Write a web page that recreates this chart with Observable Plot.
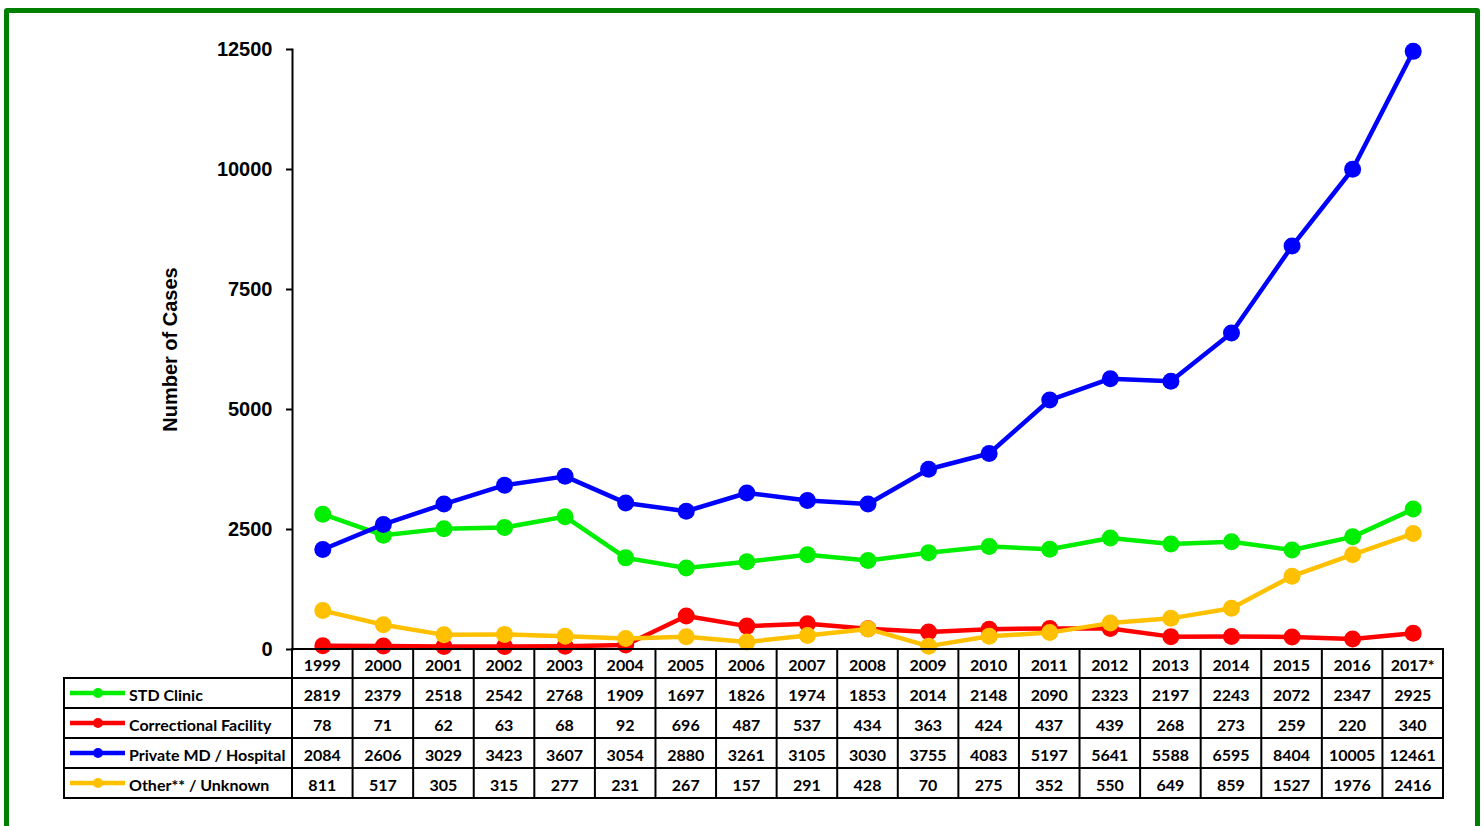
<!DOCTYPE html>
<html><head><meta charset="utf-8">
<script src="https://cdn.jsdelivr.net/npm/d3@7"></script>
<script src="https://cdn.jsdelivr.net/npm/@observablehq/plot@0.6"></script>
<style>
body{margin:0;background:#fff;}
#wrap{position:relative;width:1484px;height:826px;overflow:hidden;background:#fff;}
#wrap svg{position:absolute;left:0;top:0;}
#border{position:absolute;left:3.5px;top:7.5px;width:1466px;height:860px;border:5px solid #008000;border-radius:3px;pointer-events:none;}
</style></head><body><div id="wrap"></div>
<script>
const years = ["1999","2000","2001","2002","2003","2004","2005","2006","2007","2008","2009","2010","2011","2012","2013","2014","2015","2016","2017*"];
const stdClinic = [2819,2379,2518,2542,2768,1909,1697,1826,1974,1853,2014,2148,2090,2323,2197,2243,2072,2347,2925];
const correctional = [78,71,62,63,68,92,696,487,537,434,363,424,437,439,268,273,259,220,340];
const privateMD = [2084,2606,3029,3423,3607,3054,2880,3261,3105,3030,3755,4083,5197,5641,5588,6595,8404,10005,12461];
const otherUnknown = [811,517,305,315,277,231,267,157,291,428,70,275,352,550,649,859,1527,1976,2416];
const seriesNames = ["STD Clinic","Correctional Facility","Private MD / Hospital","Other** / Unknown"];
const seriesColors = ["#00ee00","#ff0000","#0000ff","#ffc000"];
const yTicks = [0,2500,5000,7500,10000,12500];
const yLabel = "Number of Cases";

const seriesValues = [stdClinic, correctional, privateMD, otherUnknown];
const series = seriesNames.map((name,k)=>({name, color:seriesColors[k], values:seriesValues[k],
  data: years.map((yr,i)=>({year:yr, value:seriesValues[k][i], series:name}))}));

const lineMarks = series.flatMap(s => [
  Plot.line(s.data, {x:"year", y:"value", stroke:s.color, strokeWidth:4.5}),
  Plot.dot(s.data, {x:"year", y:"value", fill:s.color, r:8.5})
]);

const chart = Plot.plot({
  width:1484, height:826,
  marginLeft:292, marginRight:41, marginTop:49, marginBottom:177,
  style:{background:"transparent", fontFamily:"'Liberation Sans', Arial, sans-serif", overflow:"visible"},
  x:{type:"point", domain:years, padding:0.5, round:false, axis:null},
  y:{domain:[0,12500]},
  marks:[
    Plot.axisY({ticks:yTicks, tickFormat:d=>String(d), tickSize:6, tickPadding:14, strokeWidth:2,
      fontSize:20, fontWeight:"bold", label:yLabel, labelAnchor:"center", labelArrow:"none", labelOffset:130}),
    Plot.frame({anchor:"left", strokeWidth:2}),
    ...lineMarks
  ]
});
document.getElementById("wrap").appendChild(chart);
const b = document.createElement("div"); b.id="border"; document.getElementById("wrap").appendChild(b);

// data table below the chart, columns aligned to the x scale
const xs = chart.scale("x");
const ys = chart.scale("y");
const step = xs.apply(years[1]) - xs.apply(years[0]);
const top0 = ys.apply(0);
const headerH = 29, rowH = 30, leftX = 64;
const rowTop = i => top0 + headerH + i*rowH;
const bottom = rowTop(series.length);
const rightX = xs.apply(years[years.length-1]) + step/2;
const firstX = xs.apply(years[0]) - step/2;
const svg = d3.select(chart);
const g = svg.append("g").attr("font-family","Lato, 'Open Sans', sans-serif").attr("font-weight","bold").attr("font-size",16).attr("fill","#000").attr("text-anchor","start");
const ln = (x1,y1,x2,y2)=>g.append("line").attr("x1",x1).attr("y1",y1).attr("x2",x2).attr("y2",y2).attr("stroke","#000").attr("stroke-width",2).attr("stroke-linecap","square");
ln(firstX, top0, rightX, top0);
for (let i=0;i<=series.length;i++) ln(leftX, rowTop(i), rightX, rowTop(i));
ln(leftX, rowTop(0), leftX, bottom);
years.forEach(yr => ln(xs.apply(yr)-step/2, top0, xs.apply(yr)-step/2, bottom));
ln(rightX, top0, rightX, bottom);
years.forEach(yr => g.append("text").attr("x", xs.apply(yr)).attr("y", top0+headerH/2+1).attr("text-anchor","middle").attr("dominant-baseline","central").text(yr));
series.forEach((s,k)=>{
  const cy = rowTop(k)+rowH/2;
  g.append("line").attr("x1",70).attr("x2",125).attr("y1",cy).attr("y2",cy).attr("stroke",s.color).attr("stroke-width",4.5);
  g.append("circle").attr("cx",98).attr("cy",cy).attr("r",5).attr("fill",s.color);
  g.append("text").attr("x",129).attr("y",cy+1).attr("text-anchor","start").attr("dominant-baseline","central").text(s.name);
  s.data.forEach(d => g.append("text").attr("x", xs.apply(d.year)).attr("y", cy+1).attr("text-anchor","middle").attr("dominant-baseline","central").text(d.value));
});
</script>
</body></html>
